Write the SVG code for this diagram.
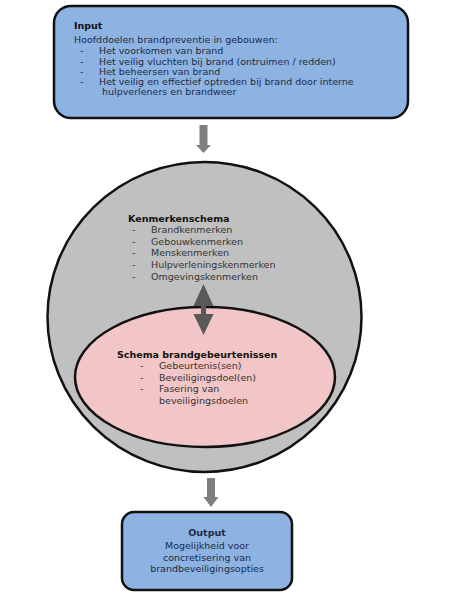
<svg xmlns="http://www.w3.org/2000/svg" width="449" height="595" viewBox="0 0 449 595">
<defs>
<style>
.t{font-family:"DejaVu Sans",Verdana,sans-serif;font-size:9.5px;fill:#1f2a44}
.b{font-weight:bold;fill:#111}
.g{fill:#333}
.box{fill:#8db3e2;stroke:#111;stroke-width:2.5}
</style>
</defs>
<rect width="449" height="595" fill="#ffffff"/>
<g id="input">
<rect class="box" x="54" y="6" width="354" height="112" rx="17"/>
<text class="t b" x="74" y="29">Input</text>
<text class="t" x="74" y="43">Hoofddoelen brandpreventie in gebouwen:</text>
<text class="t" x="80" y="54">-</text><text class="t" x="99" y="54">Het voorkomen van brand</text>
<text class="t" x="80" y="65">-</text><text class="t" x="99" y="65">Het veilig vluchten bij brand (ontruimen / redden)</text>
<text class="t" x="80" y="75">-</text><text class="t" x="99" y="75">Het beheersen van brand</text>
<text class="t" x="80" y="85">-</text><text class="t" x="99" y="85">Het veilig en effectief optreden bij brand door interne</text>
<text class="t" x="102" y="95">hulpverleners en brandweer</text>
</g>
<g id="kenmerkenschema">
<ellipse cx="204.5" cy="317" rx="157" ry="155" fill="#c0c0c0" stroke="#111" stroke-width="2.5"/>
<text class="t b" x="128" y="222">Kenmerkenschema</text>
<text class="t g" x="132" y="233">-</text><text class="t g" x="151" y="233">Brandkenmerken</text>
<text class="t g" x="132" y="245">-</text><text class="t g" x="151" y="245">Gebouwkenmerken</text>
<text class="t g" x="132" y="256">-</text><text class="t g" x="151" y="256">Menskenmerken</text>
<text class="t g" x="132" y="268">-</text><text class="t g" x="151" y="268">Hulpverleningskenmerken</text>
<text class="t g" x="132" y="280">-</text><text class="t g" x="151" y="280">Omgevingskenmerken</text>
</g>
<g id="brandgebeurtenissen">
<ellipse cx="205" cy="377" rx="130" ry="70" fill="#f2c6c6" stroke="#111" stroke-width="2.5"/>
<text class="t b" x="117" y="358">Schema brandgebeurtenissen</text>
<text class="t g" x="140" y="369">-</text><text class="t g" x="159" y="369">Gebeurtenis(sen)</text>
<text class="t g" x="140" y="381">-</text><text class="t g" x="159" y="381">Beveiligingsdoel(en)</text>
<text class="t g" x="140" y="392">-</text><text class="t g" x="159" y="392">Fasering van</text>
<text class="t g" x="159" y="404">beveiligingsdoelen</text>
</g>
<g id="output">
<rect class="box" x="122" y="512" width="170" height="78" rx="12"/>
<text class="t b" x="207" y="536" text-anchor="middle" style="fill:#1f2a44">Output</text>
<text class="t" x="207" y="549" text-anchor="middle">Mogelijkheid voor</text>
<text class="t" x="207" y="561" text-anchor="middle">concretisering van</text>
<text class="t" x="207" y="572" text-anchor="middle">brandbeveiligingsopties</text>
</g>
<g id="connectors">
<polygon points="199.5,125 207.5,125 207.5,145 211,145 203.5,153 196,145 199.5,145" fill="#7f7f7f"/>
<polygon points="207,478 215,478 215,497 218.5,497 211,507 203.5,497 207,497" fill="#7f7f7f"/>
<polygon points="203.5,284 213.5,306 206,306 206,314 213.5,314 203.5,335 193.5,314 201,314 201,306 193.5,306" fill="#595959"/>
</g>
</svg>
